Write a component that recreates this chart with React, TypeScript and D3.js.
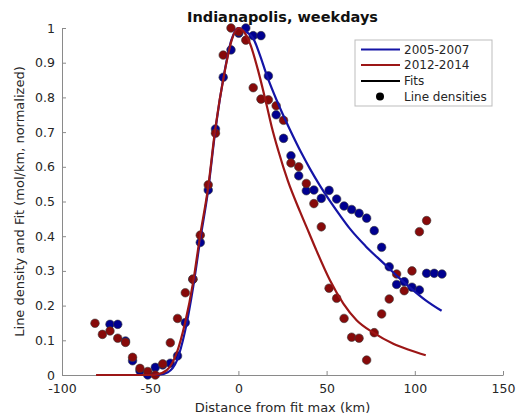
import React, { useEffect, useRef } from "react";
import * as d3 from "d3";

// ---- data ----
const blueX = [-72.8, -68.4, -64, -60, -55.8, -51.4, -47.1, -42.9, -38.6, -34.5, -30.1, -25.8, -21.6, -17.1, -13, -8.6, -4.2, 0.2, 4.2, 8.4, 12.8, 17, 21.4, 25.6, 29.8, 34.2, 38.5, 42.8, 47, 51.4, 55.7, 59.9, 64.2, 68.4, 72.7, 77, 81.2, 85.5, 89.7, 94, 98.4, 102.6, 106.7, 111, 115.4];
const blueY = [0.146, 0.146, 0.098, 0.041, 0.012, 0.0, 0.022, 0.029, 0.034, 0.055, 0.151, 0.276, 0.382, 0.533, 0.709, 0.858, 0.937, 0.985, 1.0, 0.978, 0.978, 0.862, 0.75, 0.682, 0.632, 0.574, 0.531, 0.533, 0.509, 0.532, 0.507, 0.487, 0.477, 0.466, 0.452, 0.416, 0.368, 0.312, 0.261, 0.269, 0.253, 0.245, 0.293, 0.293, 0.291];

const redX = [-81.3, -77.1, -72.8, -68.4, -64, -60, -55.8, -51.4, -47.1, -42.9, -38.6, -34.5, -30.1, -25.8, -21.6, -17.1, -13, -8.6, -4.2, 0.2, 4.2, 8.4, 12.8, 17, 21.4, 25.6, 29.8, 34.2, 38.5, 42.8, 47, 51.4, 55.7, 59.9, 64.2, 68.4, 72.7, 77, 81.2, 85.5, 89.7, 94, 98.4, 102.6, 106.7];
const redY = [0.149, 0.117, 0.127, 0.106, 0.094, 0.051, 0.019, 0.01, 0.0, 0.032, 0.093, 0.163, 0.237, 0.276, 0.403, 0.548, 0.697, 0.922, 1.0, 0.989, 0.965, 0.828, 0.795, 0.793, 0.776, 0.734, 0.611, 0.6, 0.552, 0.494, 0.427, 0.25, 0.221, 0.163, 0.109, 0.106, 0.043, 0.122, 0.176, 0.219, 0.291, 0.243, 0.3, 0.413, 0.445];

// fit curves
const blueFitX = [-72.8, -50, -45, -40, -35, -30.3, -25.6, -21.8, -17.1, -13.2, -8, -4, 0, 4, 8.4, 12, 16, 22.6, 29.3, 35.9, 40.6, 46.3, 57.6, 63.3, 72, 82.1, 90, 97.3, 106, 115.2];
const blueFitY = [0, 0, 0.001, 0.008, 0.04, 0.125, 0.255, 0.385, 0.535, 0.7, 0.87, 0.965, 1.0, 0.99, 0.97, 0.925, 0.865, 0.781, 0.706, 0.638, 0.594, 0.545, 0.46, 0.421, 0.372, 0.323, 0.285, 0.252, 0.216, 0.185];

const redFitX = [-80.7, -50, -46, -40.6, -35, -30.3, -25.6, -21.8, -17.1, -13.2, -7.6, -3.8, 0, 3, 6.6, 11.3, 16, 18.9, 22.6, 28, 35, 40, 44.4, 51.9, 59.5, 67, 76.5, 87.8, 97, 106.2];
const redFitY = [0, 0, 0.002, 0.014, 0.063, 0.149, 0.269, 0.399, 0.543, 0.706, 0.879, 0.965, 1.0, 0.99, 0.955, 0.875, 0.778, 0.715, 0.647, 0.56, 0.47, 0.41, 0.357, 0.273, 0.206, 0.158, 0.122, 0.09, 0.072, 0.057];

const xTicks = [-100, -50, 0, 50, 100, 150];
const yTicks = [0, 0.1, 0.2, 0.3, 0.4, 0.5, 0.6, 0.7, 0.8, 0.9, 1];
const yTickLabels = ["0", "0.1", "0.2", "0.3", "0.4", "0.5", "0.6", "0.7", "0.8", "0.9", "1"];
const legendLabels = ["2005-2007", "2012-2014", "Fits", "Line densities"];

const W = 522;
const H = 419;
const FONT = "DejaVu Sans, sans-serif";
const BLUE_LINE = "#1414a6";
const RED_LINE = "#9c1616";
const BLUE_DOT = "#000090";
const RED_DOT = "#870a0a";

export default function App() {
  const gx = useRef<SVGGElement>(null);
  const gy = useRef<SVGGElement>(null);

  const x = d3.scaleLinear().domain([-100, 150]).range([62, 503]);
  const y = d3.scaleLinear().domain([0, 1]).range([375, 28]);

  useEffect(() => {
    const ax = d3
      .axisBottom(x)
      .tickValues(xTicks)
      .tickFormat((d) => String(d))
      .tickSizeInner(-4)
      .tickSizeOuter(0)
      .tickPadding(9);
    const ay = d3
      .axisLeft(y)
      .tickValues(yTicks)
      .tickFormat((d, i) => yTickLabels[i])
      .tickSizeInner(-4)
      .tickSizeOuter(0)
      .tickPadding(7);
    const sx = d3.select(gx.current!);
    sx.call(ax as any);
    const sy = d3.select(gy.current!);
    sy.call(ay as any);
    [sx, sy].forEach((s) => {
      s.select(".domain").attr("stroke", "#8a8a8a").attr("stroke-width", 1);
      s.selectAll(".tick line").attr("stroke", "#8a8a8a");
      s.selectAll(".tick text")
        .attr("fill", "#262626")
        .style("font-family", FONT)
        .style("font-size", "12.5px");
    });
  }, []);

  const line = d3
    .line<[number, number]>()
    .x((d) => x(d[0]))
    .y((d) => y(d[1]))
    .curve(d3.curveMonotoneX);

  const bluePts = blueX.map((v, i) => [v, blueY[i]] as [number, number]);
  const redPts = redX.map((v, i) => [v, redY[i]] as [number, number]);
  const blueFit = blueFitX.map((v, i) => [v, blueFitY[i]] as [number, number]);
  const redFit = redFitX.map((v, i) => [v, redFitY[i]] as [number, number]);

  const legX = 355;
  const legY = 40;
  const rowY = [49.5, 65, 81, 96.5];

  return (
    <svg
      width={W}
      height={H}
      style={{ position: "absolute", left: 0, top: 0, background: "#fff" }}
      fontFamily={FONT}
    >
      <rect x={0} y={0} width={W} height={H} fill="#fff" />
      <g ref={gx} transform="translate(0,375)" />
      <g ref={gy} transform="translate(62,0)" />

      {bluePts.map((p, i) => (
        <circle key={"b" + i} cx={x(p[0])} cy={y(p[1])} r={4.3} fill={BLUE_DOT} stroke="#3a3a3a" strokeWidth={0.6} />
      ))}
      {redPts.map((p, i) => (
        <circle key={"r" + i} cx={x(p[0])} cy={y(p[1])} r={4.3} fill={RED_DOT} stroke="#3a3a3a" strokeWidth={0.6} />
      ))}

      <path d={line(blueFit) || ""} fill="none" stroke={BLUE_LINE} strokeWidth={2.2} />
      <path d={line(redFit) || ""} fill="none" stroke={RED_LINE} strokeWidth={2.2} />

      <text x={282.5} y={22} textAnchor="middle" fontWeight="bold" fontSize={14.5} fill="#111">
        Indianapolis, weekdays
      </text>
      <text x={282.5} y={412} textAnchor="middle" fontSize={13} fill="#262626">
        Distance from fit max (km)
      </text>
      <text
        transform="translate(24,201.5) rotate(-90)"
        textAnchor="middle"
        fontSize={13}
        fill="#262626"
      >
        Line density and Fit (mol/km, normalized)
      </text>

      <rect x={legX} y={legY} width={137} height={66} fill="#fff" stroke="#bdbdbd" strokeWidth={1} />
      <line x1={361} x2={400} y1={rowY[0]} y2={rowY[0]} stroke={BLUE_LINE} strokeWidth={2.2} />
      <line x1={361} x2={400} y1={rowY[1]} y2={rowY[1]} stroke={RED_LINE} strokeWidth={2.2} />
      <line x1={361} x2={400} y1={rowY[2]} y2={rowY[2]} stroke="#000" strokeWidth={2.2} />
      <circle cx={380} cy={rowY[3]} r={4} fill="#000" />
      {legendLabels.map((t, i) => (
        <text key={t} x={404} y={rowY[i] + 4.3} fontSize={12} fill="#262626">
          {t}
        </text>
      ))}
    </svg>
  );
}
